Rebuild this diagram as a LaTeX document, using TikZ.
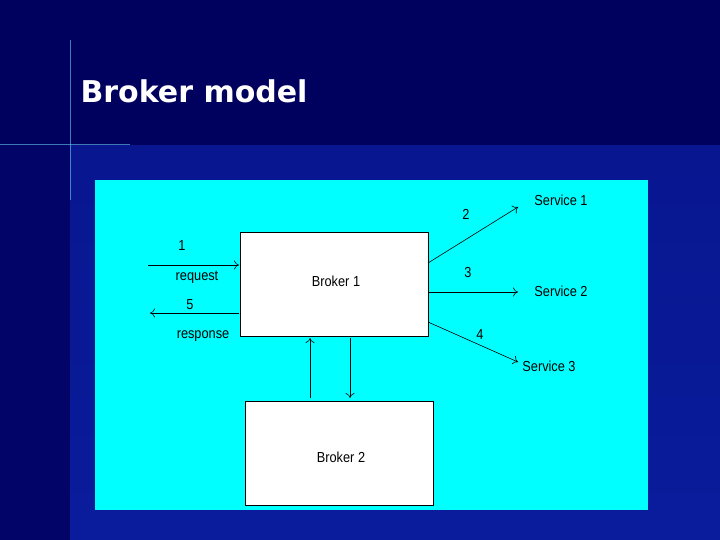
\documentclass[tikz,border=0pt]{standalone}
\usepackage{fontspec}
\setmainfont{Liberation Sans}
\newfontfamily\titlefont{DejaVu Sans}
\usetikzlibrary{arrows.meta}
\definecolor{navy}{HTML}{00005E}
\definecolor{slate}{HTML}{0A1C9C}
\definecolor{cyanbg}{HTML}{00FFFF}
\tikzset{
  box/.style={draw=black, line width=0.8pt, fill=white, minimum width=188pt, minimum height=104pt, inner sep=0pt},
  lbl/.style={font=\fontsize{14.5}{16}\selectfont, inner sep=1pt, xscale=0.88},
  arr/.style={-{To[length=5pt,width=9pt]}, line width=0.6pt}
}
\begin{document}
\begin{tikzpicture}[x=1pt,y=-1pt]
\useasboundingbox (0,0) rectangle (720,540);
\fill[slate] (0,0) rectangle (720,540);
\shade[top color=slate!80!navy, bottom color=slate] (70,145) rectangle (720,540);
\fill[navy!85!slate] (0,0) rectangle (70,540);
\fill[navy] (0,0) rectangle (720,145);
\draw[cyan!60!white, opacity=0.6, line width=1pt] (0,145) -- (130,145);
\draw[cyan!60!white, opacity=0.6, line width=1pt] (70,40) -- (70,200);
\node[anchor=west, text=white, font=\titlefont\bfseries\fontsize{30}{34}\selectfont, xscale=1.0] (title) at (77,91) {Broker model};
\fill[cyanbg] (95,180) rectangle (648,510);
\node[box] (b1) at (334,284) {};
\node[lbl] at (336,281) {Broker 1};
\node[box] (b2) at (339,453) {};
\node[lbl] at (341,457) {Broker 2};
\coordinate (rqs) at (148,265);
\coordinate (rqe) at (239,265);
\draw[arr] (rqs) -- (rqe);
\coordinate (rss) at (239,313);
\coordinate (rse) at (150,313);
\draw[arr] (rss) -- (rse);
\node[lbl] at (182,246) {1};
\node[lbl] at (197,277) {request};
\node[lbl] at (190,305) {5};
\node[lbl] at (203,336) {response};
\coordinate (s1) at (518,207);
\coordinate (s2) at (518,292);
\coordinate (s3) at (518,362);
\draw[arr] (428,263) -- (s1);
\draw[arr] (428,292) -- (s2);
\draw[arr] (428,322) -- (s3);
\node[lbl] at (466,214) {2};
\node[lbl] at (468,273) {3};
\node[lbl] at (480,335) {4};
\node[lbl] at (561,200) {Service 1};
\node[lbl] at (561,291) {Service 2};
\node[lbl] at (549,366) {Service 3};
\draw[arr] (310,398) -- (310,338);
\draw[arr] (350,338) -- (350,398);
\end{tikzpicture}
\end{document}
